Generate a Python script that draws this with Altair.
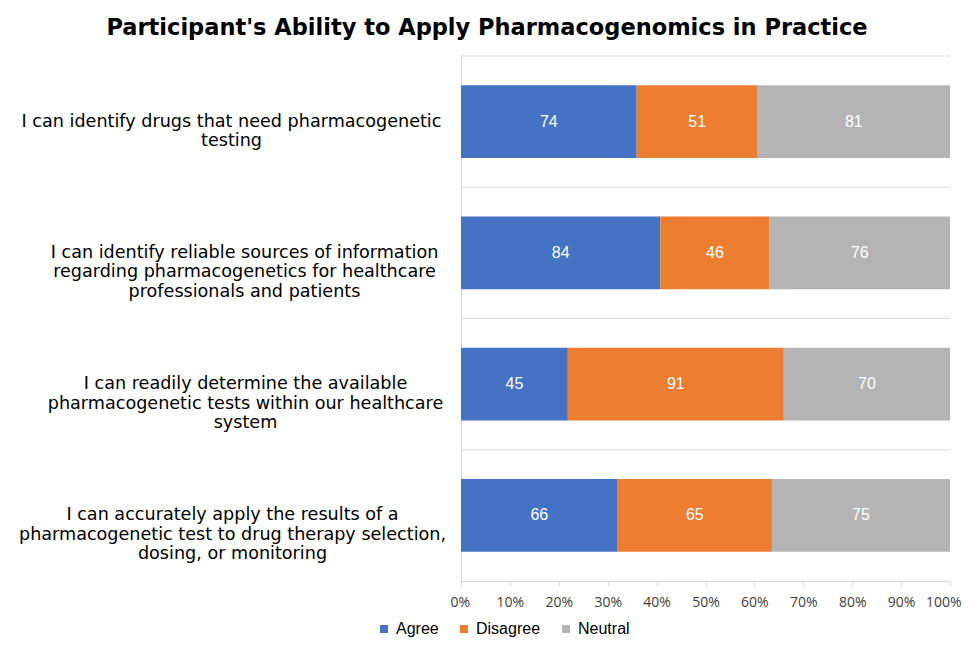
import altair as alt
import pandas as pd

categories = [
    "I can identify drugs that need pharmacogenetic|testing",
    "I can identify reliable sources of information|regarding pharmacogenetics for healthcare|professionals and patients",
    "I can readily determine the available|pharmacogenetic tests within our healthcare|system",
    "I can accurately apply the results of a|pharmacogenetic test to drug therapy selection,|dosing, or monitoring",
]
series = ["Agree", "Disagree", "Neutral"]
agree = [74, 84, 45, 66]
disagree = [51, 46, 91, 65]
neutral = [81, 76, 70, 75]
colors = ["#4472C4", "#ED7D31", "#B4B4B4"]
x_ticks = [0, 0.1, 0.2, 0.3, 0.4, 0.5, 0.6, 0.7, 0.8, 0.9, 1.0]
label_pad = [230, 217, 216, 229]

rows = []
for vals, name in zip([agree, disagree, neutral], series):
    for cat, v in zip(categories, vals):
        rows.append({"category": cat, "response": name, "count": v, "order": series.index(name)})
df = pd.DataFrame(rows)
cat_df = pd.DataFrame({"category": categories})

pad_cond = [
    {"test": "datum.value === " + repr(c), "value": p} for c, p in zip(categories, label_pad)
]

y_scale = alt.Scale(paddingInner=0, paddingOuter=0)
y_axis = alt.Axis(
    title=None,
    ticks=False,
    tickSize=0,
    domain=True,
    domainColor="#D9D9D9",
    grid=False,
    labelAlign="center",
    labelBaseline="middle",
    labelPadding={"condition": pad_cond, "value": 220},
    labelExpr="split(datum.value, '|')",
    labelLineHeight=19.5,
    labelFont="DejaVu Sans",
    labelFontSize=17.6,
    labelColor="#000000",
    labelLimit=0,
    minExtent=448,
    maxExtent=448,
)
y_enc = alt.Y("category:N", sort=categories, scale=y_scale, axis=y_axis)

x_axis = alt.Axis(
    title=None,
    values=x_ticks,
    format=".0%",
    grid=False,
    domainColor="#D9D9D9",
    tickColor="#D9D9D9",
    tickSize=5,
    labelPadding=9,
    labelFlush=True,
    labelFlushOffset=11,
    labelFont="Open Sans",
    labelFontSize=14,
    labelColor="#404040",
)

base = alt.Chart(df).transform_stack(
    stack="count",
    groupby=["category"],
    as_=["v0", "v1"],
    sort=[alt.SortField("order", "ascending")],
    offset="normalize",
).transform_calculate(mid="(datum.v0 + datum.v1) / 2")

grid = alt.Chart(cat_df).mark_rule(color="#D9D9D9", strokeWidth=1).encode(
    y=alt.Y("category:N", sort=categories, scale=y_scale, axis=y_axis, bandPosition=0),
)

bars = base.mark_bar(height={"band": 0.556}).encode(
    x=alt.X("v0:Q", scale=alt.Scale(domain=[0, 1]), axis=x_axis),
    x2="v1:Q",
    y=y_enc,
    color=alt.Color(
        "response:N",
        scale=alt.Scale(domain=series, range=colors),
        sort=series,
        legend=alt.Legend(
            title=None,
            orient="none",
            legendX=-85,
            legendY=565,
            direction="horizontal",
            symbolType="square",
            symbolSize=64,
            symbolStrokeWidth=0,
            labelFont="Liberation Sans",
            labelFontSize=16,
            labelColor="#000000",
            columnPadding=17,
            labelOffset=4,
            padding=0,
        ),
    ),
)

labels = base.mark_text(color="white", font="Liberation Sans", fontSize=16).encode(
    x=alt.X("mid:Q", scale=alt.Scale(domain=[0, 1]), axis=x_axis),
    y=y_enc,
    text=alt.Text("count:Q"),
)

chart = (
    alt.layer(grid, bars, labels)
    .properties(
        width=489,
        height=525,
        padding={"left": 5, "top": 9, "right": 0, "bottom": 0},
        title=alt.TitleParams(
            "Participant's Ability to Apply Pharmacogenomics in Practice",
            font="DejaVu Sans",
            fontSize=22.5,
            fontWeight="bold",
            color="#000000",
            anchor="middle",
            frame="bounds",
            offset=16,
        ),
    )
    .configure_view(stroke=None)
)

chart.save("out.html", embed_options={"renderer": "svg", "actions": False})
